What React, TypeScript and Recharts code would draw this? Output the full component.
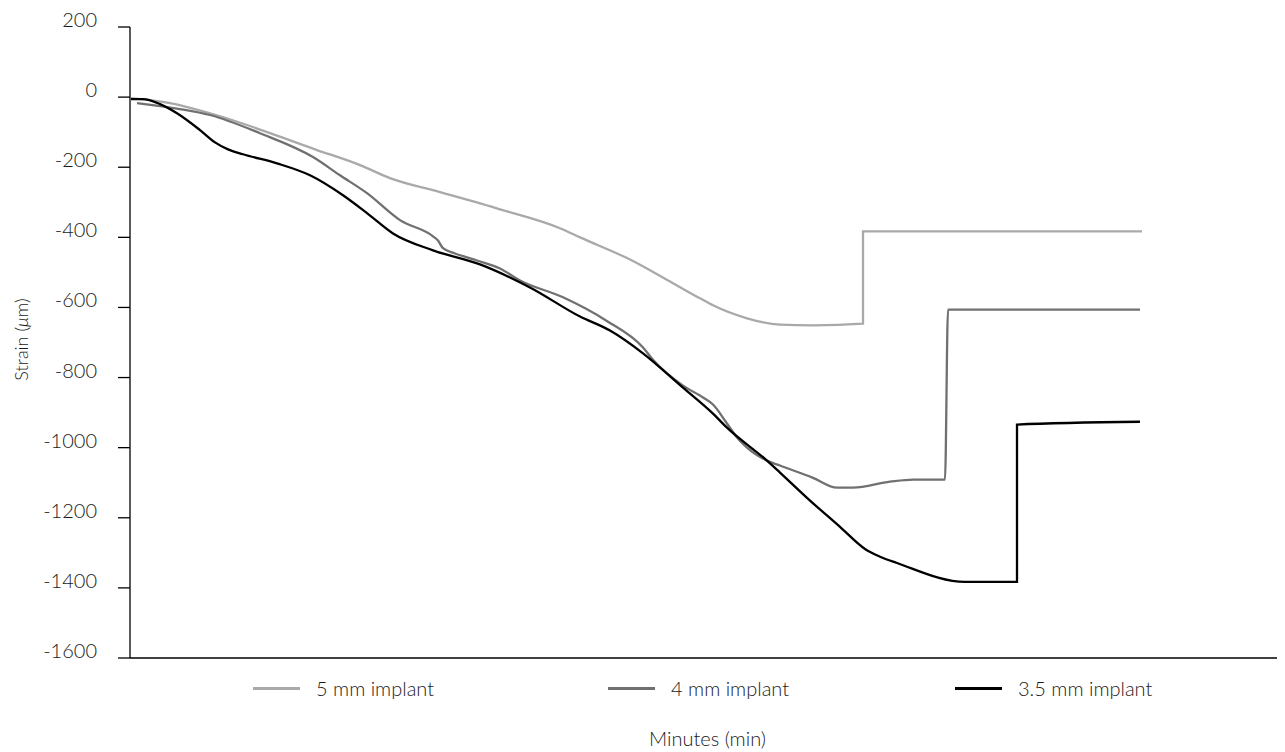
import React from 'react';
import { LineChart, Line, XAxis, YAxis, Legend } from 'recharts';

// ---- data (x in minutes, y = strain in µm) ----
const seriesNames = ['5 mm implant', '4 mm implant', '3.5 mm implant'];
const seriesColors = ['#a9a9a9', '#707070', '#000000'];

const minutes5 = [0.1, 4, 8, 18.7, 23, 26, 31, 37, 43, 45, 50.2, 54.3, 57, 58.3, 61.7, 65, 68.3, 73.3, 73.3, 101.2];
const strain5 = [-3, -17, -46, -151, -194, -231, -271, -320, -374, -400, -466, -531, -574, -594, -631, -649, -651, -646, -383, -383];

const minutes4 = [0.7, 5, 8, 13, 18.3, 21, 23.7, 27, 30.3, 30.8, 31.3, 32.5, 33.7, 34.7, 37, 39, 43.3, 47.6, 51.3, 52.3, 55.3, 57.3, 58.3, 59.7, 60.7, 61.7, 63.7, 65, 68.3, 70.7, 72.3, 76, 78.3, 81.5, 81.8, 101];
const strain4 = [-17, -34, -51, -103, -171, -223, -274, -351, -397, -409, -431, -446, -457, -466, -489, -523, -571, -637, -714, -749, -823, -857, -877, -931, -971, -1000, -1037, -1051, -1086, -1114, -1114, -1097, -1091, -1091, -606, -606];

const minutes35 = [0.1, 1.3, 3, 4.7, 7, 8.5, 9.8, 11.3, 14.7, 18, 21.3, 23.7, 26.3, 30.3, 35, 40, 45, 48, 51.3, 55.3, 58.3, 59.7, 63.7, 65, 67.7, 71, 73.5, 75, 76.7, 83.5, 88.7, 88.7, 101];
const strain35 = [-6, -6, -20, -46, -94, -129, -149, -163, -189, -223, -280, -331, -389, -437, -477, -543, -626, -666, -731, -829, -903, -943, -1037, -1071, -1143, -1226, -1289, -1311, -1329, -1383, -1383, -934, -926];

const yTicks = [-1600, -1400, -1200, -1000, -800, -600, -400, -200, 0, 200];
const xTicks = [0];
const xDomain = [0, 115.5];

const toData = (xs: number[], ys: number[]) => xs.map((m, i) => ({ minute: m, strain: ys[i] }));

const seriesData = [toData(minutes5, strain5), toData(minutes4, strain4), toData(minutes35, strain35)];

const FONT = 'Lato, "DejaVu Sans", sans-serif';
const TEXT = '#1a1a1a';
const WEIGHT = 300;

const YTick = (props: any) => {
  const { x, y, payload } = props;
  return (
    <text x={x} y={y} textAnchor="end" fontSize={20} fontWeight={WEIGHT} fontFamily={FONT} fill={TEXT}>
      {payload.value}
    </text>
  );
};

const XLabel = (props: any) => {
  const vb = props.viewBox || { x: 122, y: 650, width: 1155 };
  return (
    <text x={vb.x + vb.width / 2} y={vb.y + 88} textAnchor="middle" fontSize={20} fontWeight={WEIGHT} fontFamily={FONT} fill={TEXT}>
      Minutes (min)
    </text>
  );
};

const YLabel = (props: any) => {
  const vb = props.viewBox || { x: 0, y: 19, height: 631 };
  const cx = 20;
  const cy = vb.y + vb.height / 2 - 3;
  return (
    <text x={cx} y={cy} transform={`rotate(-90, ${cx}, ${cy})`} textAnchor="middle" fontSize={18} fontWeight={WEIGHT} fontFamily={FONT} fill={TEXT}>
      Strain (<tspan fontStyle="italic">μ</tspan>m)
    </text>
  );
};

const itemWidths = [355, 347, 260];

const LegendContent = () => (
  <div style={{ display: 'flex', paddingLeft: 245, fontFamily: FONT, fontWeight: WEIGHT, fontSize: 20, color: TEXT, lineHeight: '24px' }}>
    {seriesNames.map((n, i) => (
      <div key={n} style={{ width: itemWidths[i], display: 'flex', alignItems: 'center', whiteSpace: 'nowrap' }}>
        <span style={{ display: 'inline-block', width: 47, height: 3, background: seriesColors[i], marginRight: 16 }} />
        <span>{n}</span>
      </div>
    ))}
  </div>
);

export default function App() {
  return (
    <div style={{ width: 1277, height: 744 }}>
      <LineChart width={1277} height={744} margin={{ top: 19, right: 0, bottom: 64, left: 0 }}>
        <XAxis
          type="number"
          dataKey="minute"
          domain={xDomain}
          ticks={xTicks}
          tick={false}
          tickSize={12}
          height={30}
          axisLine={{ stroke: '#000', strokeWidth: 1.3 }}
          tickLine={{ stroke: '#000', strokeWidth: 1.3 }}
          label={<XLabel />}
          allowDataOverflow
        />
        <YAxis
          type="number"
          domain={[-1600, 200]}
          ticks={yTicks}
          width={122}
          tickSize={12}
          tickMargin={21}
          tick={<YTick />}
          axisLine={{ stroke: '#000', strokeWidth: 1.3 }}
          tickLine={{ stroke: '#000', strokeWidth: 1.3 }}
          label={<YLabel />}
          interval={0}
          allowDataOverflow
        />
        <Legend
          layout="horizontal"
          verticalAlign="middle"
          align="center"
          content={<LegendContent />}
          wrapperStyle={{ top: 668, left: 0, width: 1277 }}
        />
        {seriesNames.map((n, i) => (
          <Line
            key={n}
            name={n}
            data={seriesData[i]}
            dataKey="strain"
            type="monotone"
            stroke={seriesColors[i]}
            strokeWidth={2.3}
            dot={false}
            activeDot={false}
            isAnimationActive={false}
          />
        ))}
      </LineChart>
    </div>
  );
}
